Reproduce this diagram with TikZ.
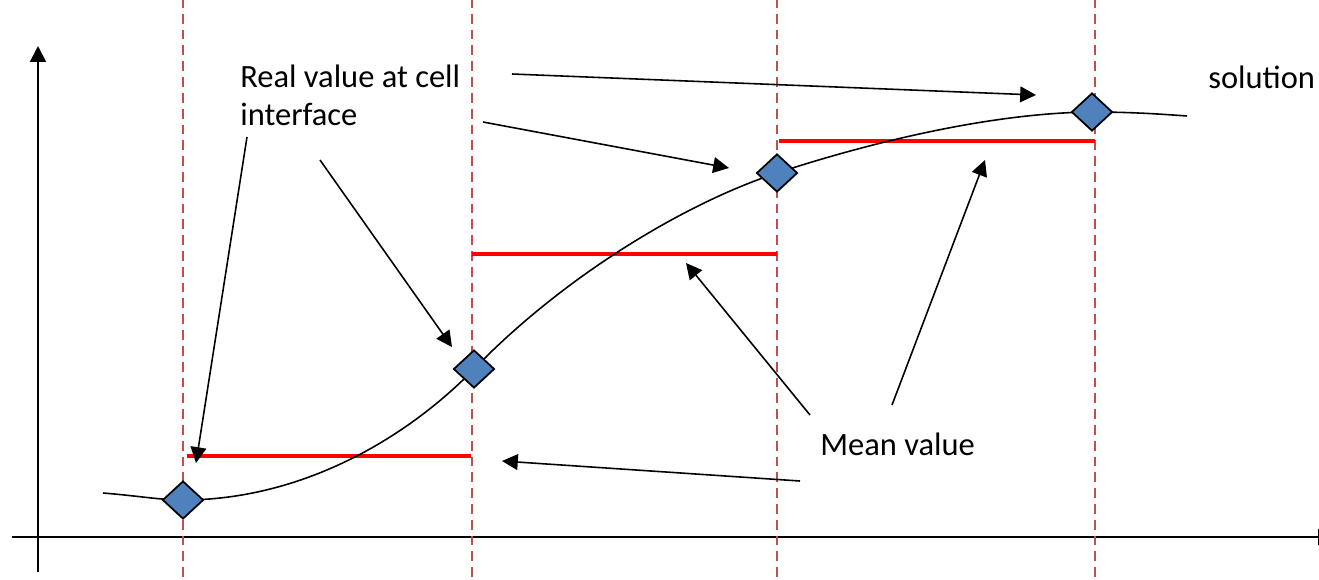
\documentclass[tikz,border=0pt]{standalone}
\usepackage{tikz}
\usetikzlibrary{positioning,arrows.meta,shapes.geometric}
\usepackage{fontspec}
\setmainfont{Carlito}
\definecolor{cellred}{HTML}{C0504D}
\definecolor{ptblue}{HTML}{4F81BD}
\begin{document}
\begin{tikzpicture}[x=0.02cm,y=-0.02cm,>={Triangle[width=9pt,length=9pt]},
	every node/.style={font=\fontsize{18.5}{21.5}\selectfont},
	interface/.style={cellred,line width=1.2pt,dash pattern=on 5.6pt off 3.4pt},
	mean/.style={red,line width=2.3pt},
	pt/.style={diamond,draw,fill=ptblue,line width=1pt,inner sep=0pt,
		minimum width=0.82cm,minimum height=0.76cm},
	note/.style={->,line width=0.9pt}]
	\useasboundingbox (0,0) rectangle (1319,579);
	
	% axes
	\draw[->,line width=1.1pt] (12,537) -- (1334,537);
	\draw[->,line width=1.1pt] (38,572) -- (38,46);
	
	% cell interfaces
	\foreach \x in {183,472,777,1095}{
		\draw[interface] (\x,-2) -- (\x,581);
	}
	
	% mean values
	\draw[mean] (187,456) -- (471,456);
	\draw[mean] (472,254) -- (777,254);
	\draw[mean] (779,141) -- (1095,141);
	
	% solution
	\coordinate (s0) at (103,493);
	\coordinate (s5) at (1187,116);
	\draw[line width=0.9pt] (s0) .. controls (140,496) and (160,500) .. (183,500)
		.. controls (300,500) and (405,440) .. (474,369)
		.. controls (560,280) and (680,205) .. (777,173)
		.. controls (850,149) and (980,113) .. (1092,112)
		.. controls (1130,112) and (1160,114) .. (s5);
	
	\node[pt] (p1) at (183,500) {};
	\node[pt] (p2) at (474,369) {};
	\node[pt] (p3) at (777,173) {};
	\node[pt] (p4) at (1092,112) {};
	
	% labels
	\node[anchor=north west,inner sep=0pt,align=left] (real) at (240,65) {Real value at cell\\interface};
	\node[anchor=north west,inner sep=0pt] (sol) at (1208,66) {solution};
	\node[anchor=north west,inner sep=0pt] (mv) at (820,433) {Mean value};
	
	\coordinate (r1) at (512,74);   \coordinate (t1) at (1036,95);
	\coordinate (r2) at (483,122);  \coordinate (t2) at (729,168);
	\coordinate (r3) at (247,137);  \coordinate (t3) at (196,463);
	\coordinate (r4) at (320,160);  \coordinate (t4) at (452,347);
	\coordinate (m1) at (800,481);  \coordinate (u1) at (502,461);
	\coordinate (m2) at (810,415);  \coordinate (u2) at (686,263);
	\coordinate (m3) at (892,405);  \coordinate (u3) at (985,160);
	
	\foreach \a/\b in {r1/t1,r2/t2,r3/t3,r4/t4,m1/u1,m2/u2,m3/u3}{
		\draw[note] (\a) -- (\b);
	}
\end{tikzpicture}
\end{document}
